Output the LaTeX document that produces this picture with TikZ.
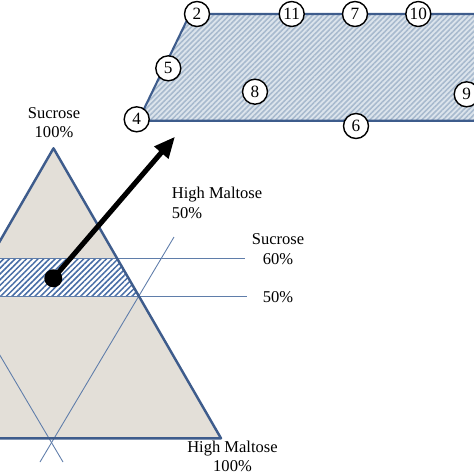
\documentclass[tikz,border=0pt]{standalone}
\usepackage{fontspec}
\setmainfont{Liberation Serif}
\usepackage{xcolor}
\usetikzlibrary{arrows.meta, patterns.meta}

\definecolor{triFill}{RGB}{227,223,216}
\definecolor{edgeBlue}{RGB}{62,92,140}
\definecolor{thinBlue}{RGB}{95,125,170}
\definecolor{hatchBlue}{RGB}{70,108,165}
\definecolor{paraFill}{RGB}{220,228,236}
\definecolor{paraHatch}{RGB}{168,186,206}

\tikzset{
  numcirc/.style={circle, draw=black, line width=0.8pt, fill=white, inner sep=0pt,
    minimum size=0.5cm, font=\fontsize{9.8}{10}\selectfont},
  lbl/.style={align=center, inner sep=0pt, font=\fontsize{9.4}{11.2}\selectfont},
  thinline/.style={thinBlue, line width=0.5pt}
}

\begin{document}
\begin{tikzpicture}[x=0.02cm, y=-0.02cm]
        \useasboundingbox (0,0) rectangle (474,474);
        \clip (0,0) rectangle (474,474);

        \coordinate (Apex) at (53.5, 148.3);
        \coordinate (BR) at (221, 438.3);
        \coordinate (BL) at (-114, 438.3);
        \coordinate (BandTL) at (-5, 258.3);
        \coordinate (BandTR) at (117.2, 258.3);
        \coordinate (BandBR) at (139.5, 296.7);
        \coordinate (BandBL) at (-5, 296.7);
        \coordinate (PTL) at (190, 14);
        \coordinate (PTR) at (500, 14);
        \coordinate (PBR) at (500, 120.7);
        \coordinate (PBL) at (138.3, 120.7);

        % ternary triangle
        \fill[triFill] (Apex) -- (BR) -- (BL) -- cycle;
        \fill[white] (BandTL) -- (BandTR) -- (BandBR) -- (BandBL) -- cycle;
        \fill[pattern={Lines[angle=45, distance=2.3pt, line width=0.85pt]}, pattern color=hatchBlue]
              (BandTL) -- (BandTR) -- (BandBR) -- (BandBL) -- cycle;
        \draw[thinline] (BandTL) -- (245, 258.3);
        \draw[thinline] (BandBL) -- (247, 296.7);
        \draw[thinline] (174, 237) -- (40, 462);
        \draw[thinline] (-2, 352) -- (63, 462);
        \draw[edgeBlue, line width=1.4pt, line join=round] (BL) -- (Apex) -- (BR) -- cycle;

        % region
        \fill[paraFill] (PTL) -- (PTR) -- (PBR) -- (PBL) -- cycle;
        \fill[pattern={Lines[angle=45, distance=2.1pt, line width=0.9pt]}, pattern color=paraHatch]
              (PTL) -- (PTR) -- (PBR) -- (PBL) -- cycle;
        \draw[edgeBlue, line width=1.2pt] (PTR) -- (PTL) -- (PBL) -- (PBR);

        \node[numcirc] (n2) at (197, 14) {2};
        \node[numcirc] (n11) at (291.7, 14) {11};
        \node[numcirc] (n7) at (355, 14) {7};
        \node[numcirc] (n10) at (418.3, 14) {10};
        \node[numcirc] (n5) at (168.3, 68.3) {5};
        \node[numcirc] (n8) at (255, 91.7) {8};
        \node[numcirc] (n9) at (466.7, 94.3) {9};
        \node[numcirc] (n4) at (136.7, 119.3) {4};
        \node[numcirc] (n6) at (356, 126) {6};

        \node[lbl] (sucTop) at (54, 122.5) {Sucrose\\100\%};
        \node[lbl, align=left, anchor=west] (hm50) at (171.5, 203) {High Maltose\\50\%};
        \node[lbl] (suc60) at (278, 249) {Sucrose\\60\%};
        \node[lbl] (suc50) at (278, 296.7) {50\%};
        \node[lbl] (hm100) at (232.5, 456.5) {High Maltose\\100\%};

        \node[circle, fill=black, minimum size=0.36cm, inner sep=0pt] (dot) at (53.3, 278.3) {};
        \coordinate (tip) at (175, 136.7);
        \draw[-{Triangle[length=12pt, width=10pt]}, line width=2.9pt] (dot.center) -- (tip);

    \end{tikzpicture}
\end{document}
